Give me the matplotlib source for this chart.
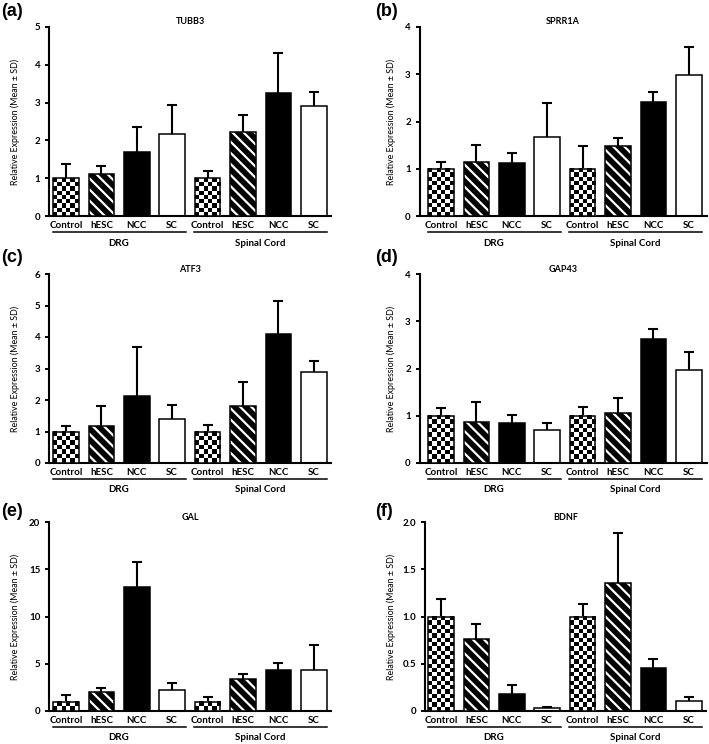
import matplotlib
matplotlib.use('Agg')
import matplotlib.pyplot as plt
import matplotlib.transforms as mtransforms
import numpy as np

plt.rcParams['font.family'] = ['Lato', 'DejaVu Sans']
plt.rcParams['hatch.linewidth'] = 1.6

groups = ['Control', 'hESC', 'NCC', 'SC', 'Control', 'hESC', 'NCC', 'SC']
tissues = ['DRG', 'Spinal Cord']

tubb3_mean = [1.0, 1.11, 1.68, 2.17, 1.0, 2.23, 3.26, 2.92]
tubb3_sd = [0.37, 0.22, 0.68, 0.76, 0.18, 0.44, 1.06, 0.36]

sprr1a_mean = [1.0, 1.14, 1.13, 1.68, 1.0, 1.49, 2.42, 2.98]
sprr1a_sd = [0.15, 0.36, 0.21, 0.71, 0.49, 0.16, 0.20, 0.60]

atf3_mean = [1.0, 1.16, 2.12, 1.41, 1.0, 1.80, 4.08, 2.88]
atf3_sd = [0.16, 0.64, 1.56, 0.42, 0.20, 0.76, 1.07, 0.37]

gap43_mean = [1.0, 0.87, 0.84, 0.70, 1.0, 1.06, 2.62, 1.97]
gap43_sd = [0.17, 0.42, 0.17, 0.14, 0.19, 0.31, 0.22, 0.38]

gal_mean = [1.0, 2.05, 13.17, 2.27, 1.0, 3.40, 4.32, 4.39]
gal_sd = [0.65, 0.35, 2.6, 0.67, 0.48, 0.50, 0.74, 2.6]

bdnf_mean = [1.0, 0.76, 0.18, 0.03, 1.0, 1.35, 0.45, 0.11]
bdnf_sd = [0.19, 0.16, 0.10, 0.016, 0.13, 0.53, 0.10, 0.035]

# letter, gene, mean, sd, ymax, yticks, ytick labels, column, row, left xlim
panels = [
    ('(a)', 'TUBB3', tubb3_mean, tubb3_sd, 5, [0, 1, 2, 3, 4, 5], None, 0, 0, -0.47),
    ('(b)', 'SPRR1A', sprr1a_mean, sprr1a_sd, 4, [0, 1, 2, 3, 4], None, 1, 0, -0.6),
    ('(c)', 'ATF3', atf3_mean, atf3_sd, 6, [0, 1, 2, 3, 4, 5, 6], None, 0, 1, -0.47),
    ('(d)', 'GAP43', gap43_mean, gap43_sd, 4, [0, 1, 2, 3, 4], None, 1, 1, -0.6),
    ('(e)', 'GAL', gal_mean, gal_sd, 20, [0, 5, 10, 15, 20], None, 0, 2, -0.47),
    ('(f)', 'BDNF', bdnf_mean, bdnf_sd, 2, [0, 0.5, 1.0, 1.5, 2.0],
     ['0', '0.5', '1.0', '1.5', '2.0'], 1, 2, -0.45),
]

W, H = 709, 744
fig = plt.figure(figsize=(W / 100, H / 100), dpi=100)

first_bar = [66, 441]      # pixel x of first bar centre per column
step = 35.4                # pixels per category
row_top = [27, 274, 522]
ax_h = 189
bar_w = 0.72
fills = ['white', 'black', 'black', 'white']

for letter, gene, mean, sd, ymax, yticks, ylabels, col, row, xl in panels:
    left = first_bar[col] + xl * step
    right = first_bar[col] + 7.5 * step
    ax = fig.add_axes([left / W, 1 - (row_top[row] + ax_h) / H,
                       (right - left) / W, ax_h / H])
    mean = np.array(mean)
    sd = np.array(sd)
    x = np.arange(len(mean))

    eb = ax.errorbar(x, mean, yerr=[np.zeros(len(sd)), sd], fmt='none',
                     ecolor='black', elinewidth=1.5, capsize=3.6,
                     capthick=1.5, zorder=1)
    eb[1][0].set_visible(False)

    ax.bar(x, mean, bar_w, color=[fills[i % 4] for i in x], linewidth=0, zorder=2)
    st = x % 4 == 1
    ax.bar(x[st], mean[st], bar_w, facecolor='none', edgecolor='white',
           hatch='\\\\\\', linewidth=0, zorder=3)
    # checkerboard fill for controls
    cell = bar_w * step / 6
    for i in x[x % 4 == 0]:
        nrow = max(1, int(round(mean[i] * ax_h / ymax / cell)))
        board = np.indices((nrow, 6)).sum(axis=0) % 2
        ax.imshow(board, cmap='gray', vmin=0, vmax=1, origin='lower',
                  extent=(i - bar_w / 2, i + bar_w / 2, 0, mean[i]),
                  aspect='auto', interpolation='nearest', zorder=3)
    ax.bar(x, mean, bar_w, facecolor='none', edgecolor='black',
           linewidth=1.1, zorder=5)

    ax.set_xlim(xl, 7.5)
    ax.set_ylim(0, ymax)
    ax.set_yticks(yticks)
    ax.set_yticklabels(ylabels if ylabels else [str(t) for t in yticks],
                       fontweight='bold')
    ax.set_xticks(x)
    ax.set_xticklabels(groups, fontweight='bold')
    ax.tick_params(axis='y', direction='out', length=3, width=1.4,
                   labelsize=7, pad=3.5)
    ax.tick_params(axis='x', length=0, labelsize=7, pad=3.5)
    for s in ['top', 'right']:
        ax.spines[s].set_visible(False)
    for s in ['left', 'bottom']:
        ax.spines[s].set_linewidth(1.5)

    ax.set_ylabel('Relative Expression (Mean ± SD)', fontsize=6.4)
    ax.yaxis.set_label_coords(-(left - (20 if col == 0 else 396)) / (right - left), 0.5)

    ax.text(0.5, 1 + 5 / ax_h, gene, transform=ax.transAxes, ha='center',
            va='center', fontsize=6.5, fontweight='bold')

    trans = mtransforms.blended_transform_factory(ax.transData, ax.transAxes)
    for k, name in enumerate(tissues):
        c = 4 * k + 1.5
        ax.plot([c - 1.88, c + 1.88], [-16 / ax_h, -16 / ax_h], color='black',
                lw=1.1, transform=trans, clip_on=False)
        ax.text(c, -27 / ax_h, name, transform=trans, ha='center', va='center',
                fontsize=7, fontweight='bold')

    lx = 1 if col == 0 else 375
    ly = [12, 257, 512][row]
    fig.text(lx / W, 1 - ly / H, letter, ha='left', va='center', fontsize=13,
             fontweight='bold', family='Liberation Sans')

fig.savefig('out.png', dpi=100)
